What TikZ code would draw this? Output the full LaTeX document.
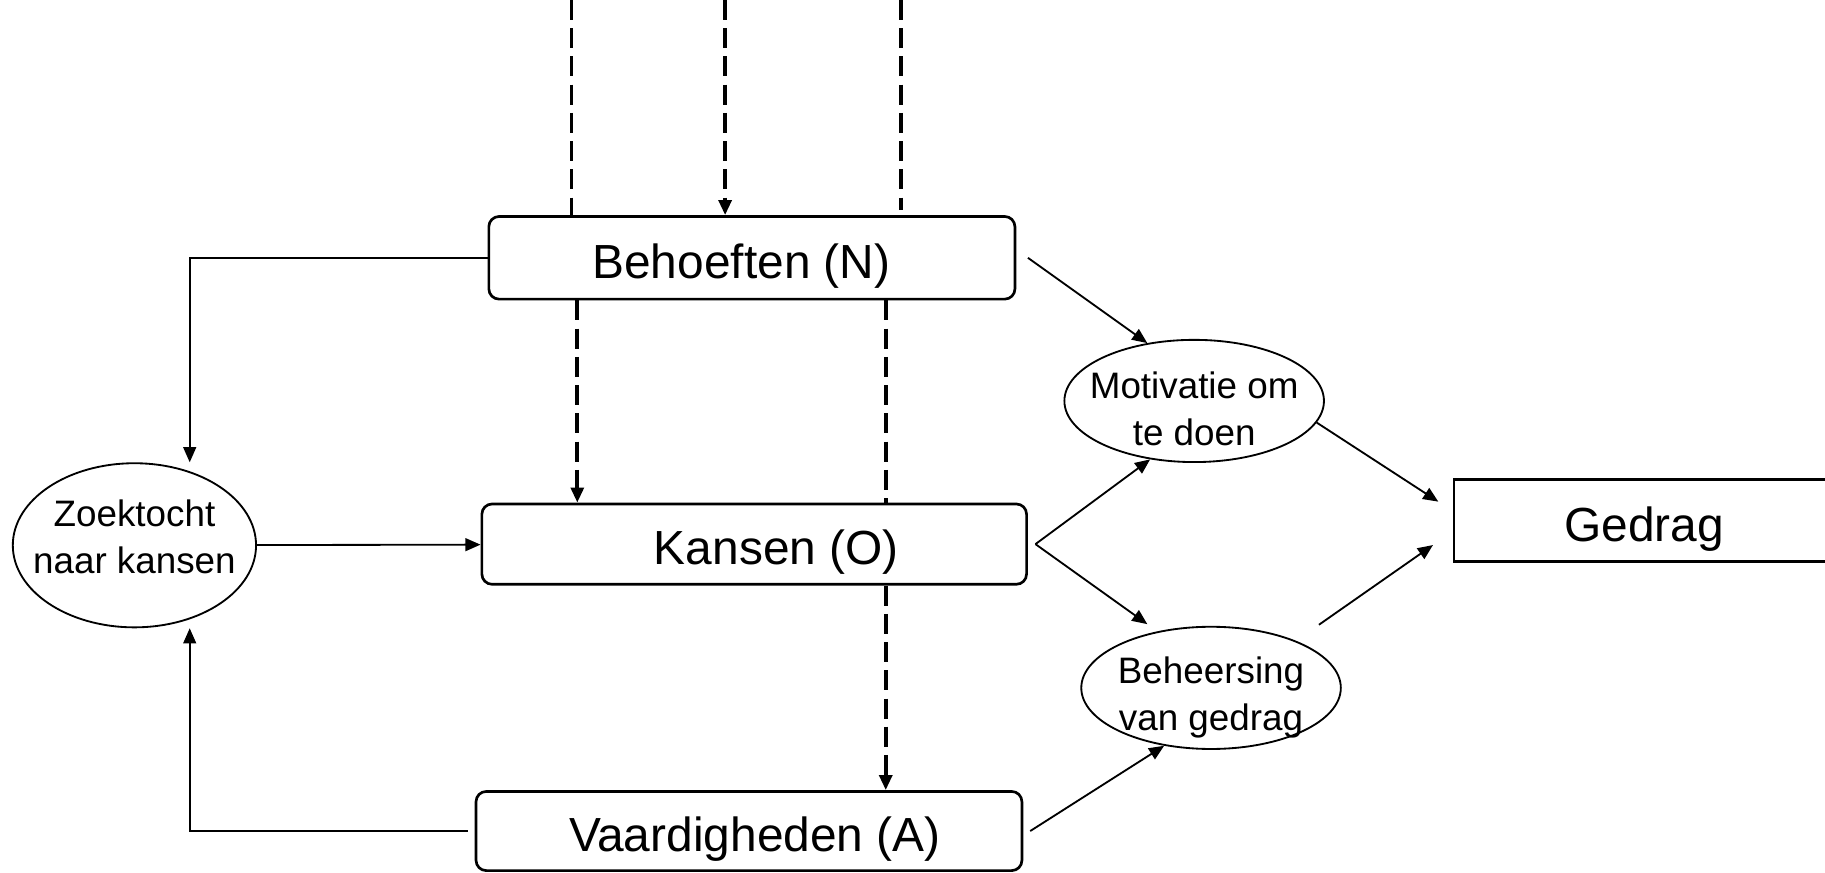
\documentclass[tikz,border=0pt]{standalone}
\usepackage{fontspec}
\setmainfont{Liberation Sans}
\usetikzlibrary{arrows.meta, shapes.geometric}

\begin{document}
\begin{tikzpicture}[>={Triangle[length=1.3mm,width=1.1mm]},
  main/.style = {draw, rounded corners=2.5pt, line width=0.65pt, text height=10pt, text depth=0pt, font=\fontsize{11.7}{14}\selectfont},
  oval/.style = {draw, ellipse, line width=0.45pt, inner xsep=-1.5mm, inner ysep=-1mm, align=center, font=\fontsize{9}{11.5}\selectfont},
  stip/.style = {line width=0.9pt, dash pattern=on 4.9pt off 2pt},
  pijl/.style = {->, line width=0.45pt}]
      \useasboundingbox (0,0) rectangle (15.68,7.5);

      \node[main, minimum width=4.52cm, minimum height=0.71cm] (N) at (6.46,5.285)  {Behoeften (N)\hspace*{0.18cm}};
      \node[main, minimum width=4.68cm, minimum height=0.69cm] (O) at (6.48,2.825)  {\hspace*{0.38cm}Kansen (O)};
      \node[main, minimum width=4.69cm, minimum height=0.68cm] (A) at (6.435,0.36)  {\hspace*{0.1cm}Vaardigheden (A)};
      \node[oval, minimum width=2.09cm, minimum height=1.41cm, text depth=4pt] (Z) at (1.155,2.815) {Zoektocht\\naar kansen};
      \node[oval, minimum width=2.23cm, minimum height=1.05cm, text height=22.1pt] (M) at (10.26,4.055) {Motivatie om\\te doen};
      \node[oval, minimum width=2.23cm, minimum height=1.05cm, text height=22.6pt] (B) at (10.405,1.59) {Beheersing\\van gedrag};
      \node[main, rounded corners=0pt, line width=0.6pt, minimum width=3.27cm, minimum height=0.706cm] (G) at (14.125,3.027) {Gedrag};

      % dashed lines from above
      \coordinate (t1) at (4.91,7.5);
      \coordinate (t2) at (6.23,7.5);
      \coordinate (t3) at (7.74,7.5);
      \draw[stip]    (t1) -- (t1 |- N.north);
      \draw[stip,->] (t2) -- (t2 |- N.north);
      \draw[stip]    (t3) -- ([yshift=0.4mm]t3 |- N.north);

      \coordinate (d1) at (4.96,0);
      \coordinate (d2) at (7.61,0);
      \draw[stip,->] (d1 |- N.south) -- (d1 |- O.north);
      \draw[stip]    (d2 |- N.south) -- (d2 |- O.north);
      \draw[stip,->] (d2 |- O.south) -- (d2 |- A.north);

      % search loop
      \draw[pijl] (N.west) -| ([xshift=4.75mm]Z.north);
      \draw[pijl] ([xshift=-0.6mm]A.west) -| ([xshift=4.75mm]Z.south);
      \draw[pijl] (Z) -- (O);

      % to behaviour
      \draw[pijl] ([xshift=1mm]N.east) -- (M.129);
      \draw[pijl] ([xshift=0.65mm]O.east) -- (M.233);
      \draw[pijl] ([xshift=0.65mm]O.east) -- ([shift={(-0.66mm,0.66mm)}]B.135);
      \draw[pijl] ([xshift=0.6mm]A.east) -- (B.231);
      \draw[pijl] (M.350) -- ([shift={(-1.22mm,1.63mm)}]G.west);
      \draw[pijl, shorten <=2.4mm] (B.29) -- ([shift={(-1.68mm,-2.1mm)}]G.west);
    \end{tikzpicture}
\end{document}
